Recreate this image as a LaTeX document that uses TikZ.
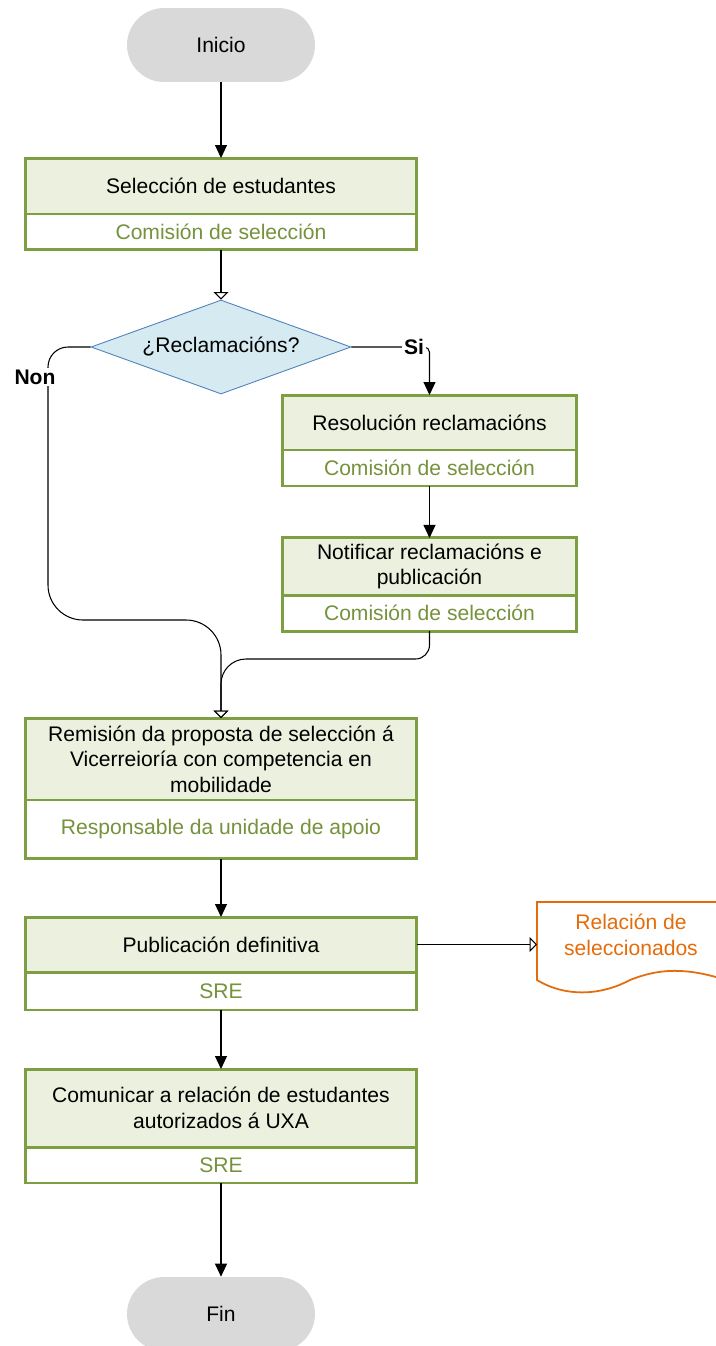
\documentclass[tikz,border=0pt]{standalone}
\usepackage{fontspec}
\setmainfont{Liberation Sans}
\usetikzlibrary{positioning}
\usetikzlibrary{shapes.geometric}
\usetikzlibrary{arrows.meta}

\definecolor{boxfill}{HTML}{EBF1DE}
\definecolor{boxline}{HTML}{7E9E42}
\definecolor{roletext}{HTML}{76923C}
\definecolor{endfill}{HTML}{D9D9D9}
\definecolor{askfill}{HTML}{D5EAF1}
\definecolor{askline}{HTML}{4F81BD}
\definecolor{docline}{HTML}{E46C0A}

\begin{document}
\begin{tikzpicture}[x=0.02cm, y=-0.02cm, font=\fontsize{12}{14.5}\selectfont,
    endnode/.style={fill=endfill, rounded corners=0.74cm, minimum width=3.76cm, minimum height=1.48cm},
    taskbox/.style={draw=boxline, fill=boxfill, line width=1.7pt, outer sep=0pt, align=center, minimum width=7.84cm},
    rolebox/.style={draw=boxline, fill=white, line width=1.7pt, outer sep=0pt, align=center, minimum width=7.84cm, text=roletext},
    narrow/.style={minimum width=5.9cm},
    flow/.style={-{Triangle[length=0.26cm, width=0.24cm]}, line width=0.6pt},
    openflow/.style={-{Triangle[open, length=0.15cm, width=0.3cm, fill=white]}, line width=0.6pt},
    answer/.style={fill=white, inner sep=1pt, font=\fontsize{12}{14.5}\selectfont\bfseries}]
    \useasboundingbox (0,0) rectangle (716,1346);
    \clip (0,0) rectangle (716,1346);

    % start
    \node[endnode] (inicio) at (221,45) {Inicio};

    % selection
    \node[taskbox, minimum height=1.12cm] (sel) at (221,186) {Selección de estudantes};
    \node[rolebox, minimum height=0.72cm] (selr) [below=0pt of sel] {Comisión de selección};

    % question
    \node[diamond, draw=askline, fill=askfill, line width=0.5pt, inner sep=0pt, aspect=2.77,
          minimum width=5.2cm, minimum height=1.88cm] (ask) at (221,347) {¿Reclamacións?};

    % claims branch
    \node[taskbox, narrow, minimum height=1.10cm] (res) at (429.5,422.5) {Resolución reclamacións};
    \node[rolebox, narrow, minimum height=0.72cm] (resr) [below=0pt of res] {Comisión de selección};
    \node[taskbox, narrow, minimum height=1.10cm] (notif) at (429.5,566.5) {Notificar reclamacións e\\publicación};
    \node[rolebox, narrow, minimum height=0.72cm] (notifr) [below=0pt of notif] {Comisión de selección};

    % main column
    \node[taskbox, minimum height=1.64cm] (rem) at (221,759) {Remisión da proposta de selección á\\Vicerreioría con competencia en\\mobilidade};
    \node[rolebox, minimum height=1.18cm] (remr) [below=0pt of rem] {Responsable da unidade de apoio};
    \node[taskbox, minimum height=1.10cm] (pub) at (221,944.5) {Publicación definitiva};
    \node[rolebox, minimum height=0.76cm] (pubr) [below=0pt of pub] {SRE};
    \node[taskbox, minimum height=1.56cm] (com) at (221,1108) {Comunicar a relación de estudantes\\autorizados á UXA};
    \node[rolebox, minimum height=0.72cm] (comr) [below=0pt of com] {SRE};

    % end
    \node[endnode] (fin) at (221,1314) {Fin};

    % document
    \draw[docline, fill=white, line width=1pt] (537,902) -- (740,902) -- (740,985)
        .. controls (690,966) and (660,968) .. (630,980)
        .. controls (600,996) and (565,997) .. (537,980) -- cycle;
    \node[text=docline, align=center] (doc) at (631,935) {Relación de\\seleccionados};
    \coordinate (docin) at (537,944.5);

    % connectors
    \draw[flow] (inicio) -- (sel);
    \draw[openflow] (selr) -- (ask);
    \draw[flow, rounded corners=3pt] (ask.east) -| (res.north);
    \node[answer] (si) at (414,347) {Si};
    \draw[openflow] (ask.west) [rounded corners=0.4cm] -- (48,347) -- (48,500)
        [rounded corners=0.7cm] -- (48,620) -- (221,620) -- (rem.north);
    \node[answer] (non) at (35,377) {Non};
    \draw[flow] (resr) -- (notif);
    \draw[openflow] (notifr.south) [rounded corners=0.28cm] -- (429.5,659) -- (300,659)
        [rounded corners=0.5cm] -- (221,659) -- (rem.north);
    \draw[flow] (remr) -- (pub);
    \draw[openflow] (pub.east) -- (docin);
    \draw[flow] (pubr) -- (com);
    \draw[flow] (comr) -- (fin);
\end{tikzpicture}
\end{document}
